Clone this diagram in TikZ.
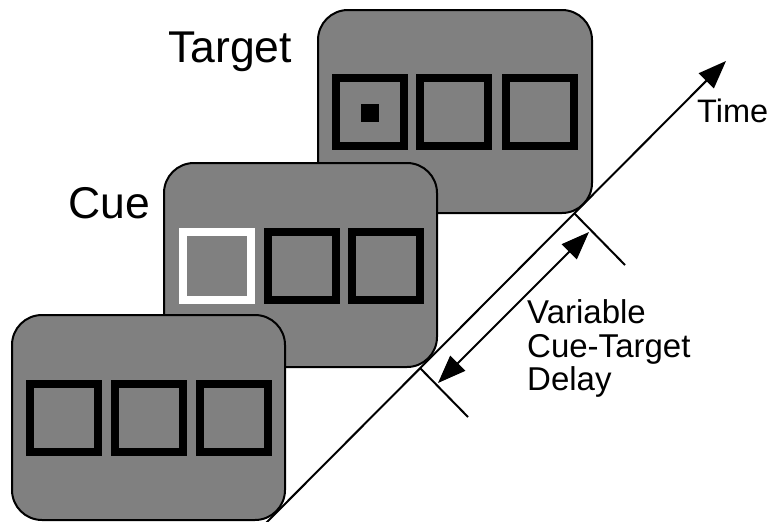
\documentclass[tikz,border=0pt]{standalone}
\usepackage{fontspec}
\setmainfont{Liberation Sans}
\usetikzlibrary{arrows.meta}
\definecolor{panelgray}{RGB}{128,128,128}
\begin{document}
\begin{tikzpicture}[x=1pt,y=-1pt,
  panel/.style={draw=black,line width=2pt,fill=panelgray,rounded corners=30pt},
  boxsq/.style={draw=black,line width=8pt,minimum size=68pt,inner sep=0pt,fill=none},
  cuesq/.style={boxsq,draw=white},
  dot/.style={fill=black,draw=none,minimum size=18pt,inner sep=0pt},
  bigfont/.style={font=\fontsize{44.5}{52}\selectfont,anchor=base west,inner sep=0pt},
  timefont/.style={font=\fontsize{32.5}{36}\selectfont,anchor=base west,inner sep=0pt},
  smallfont/.style={font=\fontsize{33}{36}\selectfont,anchor=base west,inner sep=0pt},
  axis/.style={line width=2pt,-{Triangle[length=28pt,width=21pt]}},
  tick/.style={line width=2pt},
  dbl/.style={line width=2pt,{Triangle[length=28pt,width=21pt]}-{Triangle[length=28pt,width=21pt]}}
]
\useasboundingbox (0,0) rectangle (771,522);
% Target panel (back)
\draw[panel] (318,10) rectangle (592,213);
\node[boxsq] (t1) at (370,112) {};
\node[boxsq] (t2) at (454,112) {};
\node[boxsq] (t3) at (539.5,112) {};
\node[dot] (tdot) at (370,112.5) {};
% Cue panel
\draw[panel] (164,163) rectangle (437,367);
\node[cuesq] (c1) at (216.5,265.5) {};
\node[boxsq] (c2) at (302,265.5) {};
\node[boxsq] (c3) at (386,265.5) {};
% Front panel
\draw[panel] (12,315) rectangle (285,520);
\node[boxsq] (f1) at (63.5,417.5) {};
\node[boxsq] (f2) at (148.5,417.5) {};
\node[boxsq] (f3) at (234,417.5) {};
% Labels
\node[bigfont] (lt) at (168,62) {Target};
\node[bigfont] (lc) at (68,218) {Cue};
\node[timefont] (ltime) at (697,122) {Time};
\node[smallfont] (v1) at (527,323) {Variable};
\node[smallfont] (v2) at (527,357) {Cue-Target};
\node[smallfont] (v3) at (527,390) {Delay};
% Time axis
\coordinate (a0) at (266,523);
\coordinate (a1) at (726,61);
\draw[axis] (a0) -- (a1);
% Ticks
\coordinate (k1a) at (574,213);
\coordinate (k1b) at (625,265);
\coordinate (k2a) at (420,368);
\coordinate (k2b) at (468,417);
\draw[tick] (k1a) -- (k1b);
\draw[tick] (k2a) -- (k2b);
% Delay double arrow
\coordinate (d1) at (589,232);
\coordinate (d2) at (438,383);
\draw[dbl] (d2) -- (d1);
\end{tikzpicture}
\end{document}
